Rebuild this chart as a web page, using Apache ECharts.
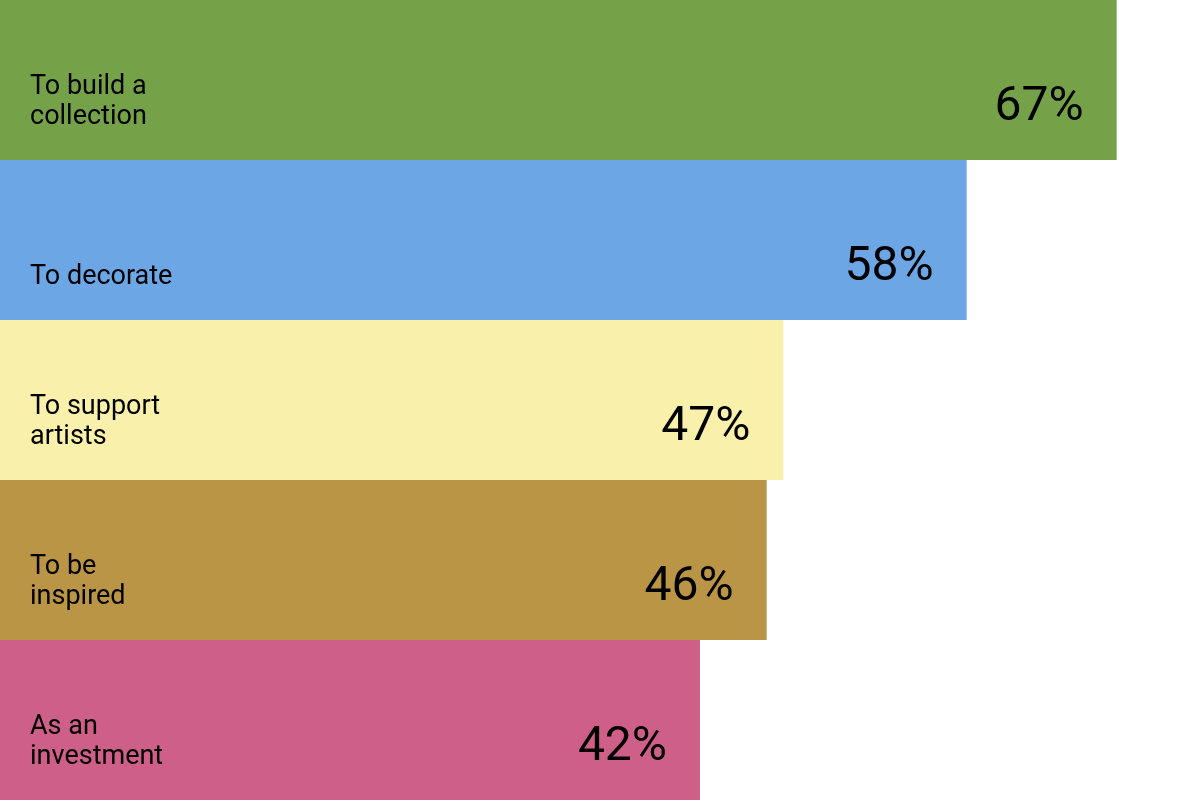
<!DOCTYPE html>
<html lang="en">
<head>
    <meta charset="UTF-8">
    <title>Reasons for buying art</title>
    <script src="https://cdn.jsdelivr.net/npm/echarts@6/dist/echarts.min.js"></script>
    <style>
        html, body { margin: 0; padding: 0; background: #fff; }
        #chart { width: 1200px; height: 800px; }
    </style>
</head>
<body>
    <div id="chart"></div>

    <script>
        // data
        const categories = ['To build a\ncollection', 'To decorate', 'To support\nartists', 'To be\ninspired', 'As an\ninvestment'];
        const shares = [67, 58, 47, 46, 42];
        const colors = ['#75a249', '#6ca6e5', '#f9f1ab', '#b99545', '#ce5f89'];

        const chart = echarts.init(document.getElementById('chart'));
        chart.setOption({
            animation: false,
            grid: { left: 0, right: 0, top: 0, bottom: 0 },
            xAxis: { type: 'value', min: 0, max: 72, show: false },
            yAxis: { type: 'category', data: categories, inverse: true, show: false },
            series: [
                {
                    // coloured bars + category name
                    type: 'bar',
                    barWidth: '100%',
                    data: shares.map((v, i) => ({ value: v, itemStyle: { color: colors[i] } })),
                    label: {
                        show: true,
                        position: [30, 132],
                        align: 'left',
                        verticalAlign: 'bottom',
                        formatter: p => p.name,
                        fontFamily: 'Roboto',
                        fontSize: 27,
                        lineHeight: 30,
                        color: '#000'
                    }
                },
                {
                    // overlay just for the value text
                    type: 'bar',
                    barWidth: '100%',
                    barGap: '-100%',
                    data: shares,
                    itemStyle: { color: 'rgba(0,0,0,0)' },
                    label: {
                        show: true,
                        position: 'insideRight',
                        distance: 33,
                        offset: [0, 28],
                        formatter: '{c}%',
                        fontFamily: 'Roboto',
                        fontSize: 48,
                        color: '#000'
                    }
                }
            ]
        });
    </script>
</body>
</html>
